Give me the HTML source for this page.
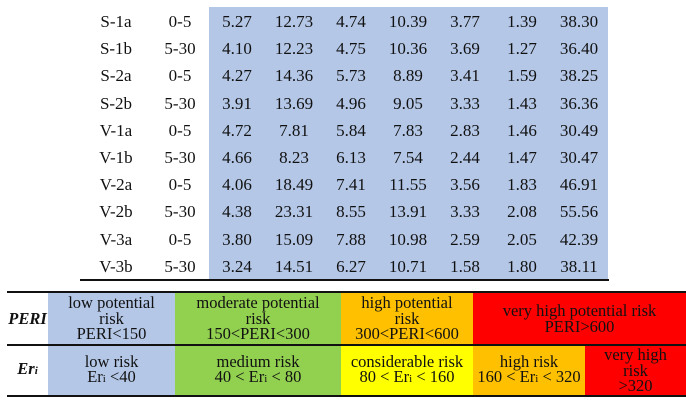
<!DOCTYPE html>
<html><head><meta charset="utf-8"><style>
body{margin:0;width:686px;height:401px;background:#fff;position:relative;overflow:hidden;font-family:"Liberation Serif",serif;color:#111}
.a{position:absolute}
.t{position:absolute;text-align:center;font-size:17px;line-height:27px;transform:translateX(-50%);white-space:nowrap}
.c{position:absolute;display:flex;justify-content:center;align-items:center;text-align:center;font-size:16.5px;line-height:15.5px;color:#111}
.c sub{font-size:11px;vertical-align:baseline}
.hr{position:absolute;background:#111}
</style></head><body>
<div class="a" style="left:209px;top:7px;width:399px;height:273px;background:#b4c7e7"></div>
<div id="rows"></div>
<div class="hr" style="left:80px;top:279px;width:529px;height:2px"></div>

<div class="hr" style="left:7px;top:291px;width:679px;height:2px"></div>
<div class="hr" style="left:7px;top:344px;width:679px;height:2px"></div>
<div class="hr" style="left:7px;top:395px;width:679px;height:1.5px"></div>

<div class="c" style="left:7px;top:293px;width:41px;height:51px;font-style:italic;font-weight:bold"><div>PERI</div></div>
<div class="c" style="left:48px;top:293px;width:127px;height:51px;background:#b4c7e7"><div>low potential<br>risk<br>PERI&lt;150</div></div>
<div class="c" style="left:175px;top:293px;width:166px;height:51px;background:#92d050"><div>moderate potential<br>risk<br>150&lt;PERI&lt;300</div></div>
<div class="c" style="left:341px;top:293px;width:132px;height:51px;background:#ffc000"><div>high potential<br>risk<br>300&lt;PERI&lt;600</div></div>
<div class="c" style="left:473px;top:293px;width:213px;height:51px;background:#ff0000"><div>very high potential risk<br>PERI&gt;600</div></div>

<div class="c" style="left:7px;top:346px;width:41px;height:49px;font-style:italic;font-weight:bold"><div>Er<sub>i</sub></div></div>
<div class="c" style="left:48px;top:346px;width:127px;height:49px;background:#b4c7e7"><div>low risk<br>Er<sub>i</sub> &lt;40</div></div>
<div class="c" style="left:175px;top:346px;width:166px;height:49px;background:#92d050"><div>medium risk<br>40 &lt; Er<sub>i</sub> &lt; 80</div></div>
<div class="c" style="left:341px;top:346px;width:132px;height:49px;background:#ffff00"><div>considerable risk<br>80 &lt; Er<sub>i</sub> &lt; 160</div></div>
<div class="c" style="left:473px;top:346px;width:112px;height:49px;background:#ffc000"><div>high risk<br>160 &lt; Er<sub>i</sub> &lt; 320</div></div>
<div class="c" style="left:585px;top:346px;width:101px;height:49px;background:#ff0000"><div>very high<br>risk<br>&gt;320</div></div>

<script>
const samples=["S-1a","S-1b","S-2a","S-2b","V-1a","V-1b","V-2a","V-2b","V-3a","V-3b"];
const depths=["0-5","5-30","0-5","5-30","0-5","5-30","0-5","5-30","0-5","5-30"];
const values=[
["5.27","12.73","4.74","10.39","3.77","1.39","38.30"],
["4.10","12.23","4.75","10.36","3.69","1.27","36.40"],
["4.27","14.36","5.73","8.89","3.41","1.59","38.25"],
["3.91","13.69","4.96","9.05","3.33","1.43","36.36"],
["4.72","7.81","5.84","7.83","2.83","1.46","30.49"],
["4.66","8.23","6.13","7.54","2.44","1.47","30.47"],
["4.06","18.49","7.41","11.55","3.56","1.83","46.91"],
["4.38","23.31","8.55","13.91","3.33","2.08","55.56"],
["3.80","15.09","7.88","10.98","2.59","2.05","42.39"],
["3.24","14.51","6.27","10.71","1.58","1.80","38.11"]];
const root=document.getElementById('rows');
const rowY=i=>8+i*27.2;
const colX=j=>237+j*57;
function cell(txt,x,y,name){
  const d=document.createElement('div');
  d.className='t';d.style.left=x+'px';d.style.top=y+'px';d.textContent=txt;
  
  
  root.appendChild(d);
}
samples.forEach((s,i)=>{
  cell(s,116,rowY(i),'sample-label');
  cell(depths[i],180,rowY(i),'depth-label');
  values[i].forEach((v,j)=>cell(v,colX(j),rowY(i),'value-cell'));
});
</script>
</body></html>
